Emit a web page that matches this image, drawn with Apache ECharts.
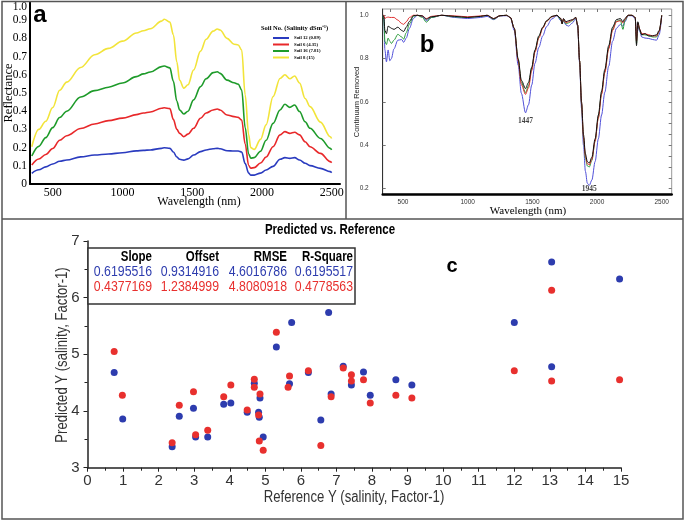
<!DOCTYPE html>
<html><head><meta charset="utf-8">
<script src="https://cdn.jsdelivr.net/npm/echarts@6/dist/echarts.min.js"></script>
<style>html,body{margin:0;padding:0;background:#fff}#c{width:685px;height:522px}</style>
</head><body><div id="c"></div>
<script>
// ---------- Panel a : reflectance spectra ----------
const wlA = [350,400,450,500,550,600,700,800,900,1000,1100,1150,1200,1280,1300,1340,1365,1390,1410,1440,1470,1510,1560,1600,1650,1680,1700,1750,1800,1830,1855,1880,1905,1920,1945,1990,2030,2080,2130,2165,2200,2235,2270,2310,2345,2420,2490,2500];
const reflSoil12 = [0.059,0.078,0.094,0.11,0.125,0.132,0.149,0.159,0.165,0.172,0.182,0.185,0.187,0.196,0.199,0.196,0.176,0.148,0.136,0.131,0.138,0.159,0.178,0.187,0.194,0.196,0.194,0.183,0.181,0.181,0.176,0.112,0.06,0.049,0.049,0.06,0.077,0.097,0.136,0.145,0.141,0.145,0.132,0.114,0.101,0.086,0.068,0.062];
const reflSoil6 = [0.104,0.137,0.162,0.195,0.24,0.265,0.305,0.33,0.348,0.362,0.381,0.39,0.396,0.416,0.419,0.414,0.355,0.30,0.278,0.26,0.274,0.306,0.361,0.39,0.407,0.412,0.407,0.379,0.37,0.366,0.352,0.22,0.102,0.087,0.09,0.115,0.148,0.205,0.27,0.288,0.278,0.284,0.27,0.232,0.205,0.168,0.123,0.117];
const reflSoil16 = [0.154,0.207,0.255,0.31,0.365,0.40,0.478,0.513,0.532,0.555,0.59,0.605,0.615,0.645,0.648,0.638,0.565,0.455,0.407,0.385,0.40,0.462,0.535,0.578,0.612,0.617,0.608,0.571,0.556,0.549,0.516,0.31,0.165,0.142,0.145,0.18,0.24,0.333,0.407,0.438,0.421,0.434,0.398,0.342,0.306,0.25,0.196,0.187];
const reflSoil8 = [0.205,0.30,0.345,0.42,0.515,0.56,0.64,0.71,0.745,0.785,0.83,0.842,0.853,0.895,0.905,0.89,0.82,0.67,0.57,0.527,0.545,0.626,0.73,0.795,0.84,0.852,0.846,0.80,0.768,0.764,0.736,0.49,0.27,0.20,0.19,0.245,0.325,0.48,0.58,0.60,0.578,0.593,0.555,0.47,0.425,0.34,0.26,0.25];
const legendNamesA = ['Soil 12 (0.89)','Soil 6 (4.35)','Soil 16 (7.81)','Soil 8 (15)'];
const xTicksA = [500,1000,1500,2000,2500];

// ---------- Panel b : continuum removed ----------
const wlB = [345,352,360,372,385,398,410,430,460,490,505,525,550,580,610,650,680,720,800,900,1000,1100,1150,1200,1250,1300,1330,1360,1390,1415,1447,1470,1495,1520,1550,1580,1610,1650,1690,1720,1730,1740,1760,1780,1810,1835,1850,1865,1880,1895,1910,1925,1940,1960,1985,2010,2035,2060,2090,2120,2150,2180,2200,2215,2240,2270,2295,2305,2315,2330,2345,2370,2400,2430,2460,2480,2500];
const crBlue = [1.0,0.99,0.84,0.785,0.84,0.79,0.80,0.845,0.885,0.888,0.875,0.895,0.94,0.985,1.0,0.995,0.975,0.99,1.0,0.99,0.985,0.99,0.995,0.98,0.997,0.998,0.99,0.93,0.77,0.64,0.55,0.587,0.678,0.778,0.852,0.905,0.948,0.983,0.998,0.975,0.965,0.975,0.955,0.95,0.965,0.985,0.95,0.78,0.57,0.40,0.28,0.225,0.215,0.24,0.325,0.43,0.54,0.645,0.765,0.88,0.94,0.958,0.95,0.97,0.998,0.998,0.985,0.90,0.95,0.925,0.90,0.895,0.893,0.888,0.885,0.91,0.995];
const crGreen = [1.0,0.98,0.88,0.865,0.895,0.88,0.87,0.885,0.912,0.9,0.89,0.92,0.96,0.995,1.0,0.99,0.968,0.99,1.0,0.993,0.99,0.995,1.0,0.982,0.998,1.0,0.99,0.94,0.795,0.69,0.643,0.675,0.755,0.835,0.9,0.942,0.973,0.993,1.0,0.98,0.96,0.98,0.96,0.965,0.975,0.99,0.955,0.79,0.59,0.435,0.34,0.305,0.30,0.33,0.42,0.53,0.64,0.74,0.85,0.935,0.972,0.978,0.935,0.975,1.0,1.0,0.99,0.87,0.965,0.93,0.91,0.91,0.905,0.9,0.9,0.925,1.0];
const crRed = [1.0,1.0,0.985,0.99,0.992,0.99,0.99,0.99,0.978,0.962,0.958,0.97,0.99,1.0,1.0,0.997,0.985,0.995,1.0,0.997,0.993,0.997,1.0,0.985,0.998,1.0,0.99,0.94,0.79,0.68,0.635,0.665,0.745,0.83,0.895,0.94,0.972,0.993,1.0,0.985,0.962,0.982,0.965,0.97,0.978,0.99,0.955,0.79,0.595,0.44,0.35,0.315,0.31,0.335,0.42,0.525,0.635,0.735,0.845,0.93,0.97,0.975,0.965,0.98,1.0,1.0,0.99,0.88,0.965,0.935,0.915,0.915,0.91,0.905,0.905,0.925,1.0];
const crBlack = [1.0,0.99,0.93,0.915,0.95,0.945,0.94,0.935,0.945,0.93,0.925,0.945,0.972,0.998,1.0,0.997,0.982,0.993,1.0,0.995,0.99,0.995,1.0,0.985,0.998,1.0,0.99,0.94,0.80,0.70,0.662,0.69,0.76,0.84,0.905,0.945,0.975,0.995,1.0,0.985,0.96,0.985,0.97,0.975,0.98,0.99,0.955,0.79,0.60,0.45,0.36,0.325,0.318,0.345,0.43,0.54,0.65,0.75,0.86,0.945,0.98,0.985,0.97,0.985,1.0,1.0,0.99,0.86,0.97,0.935,0.91,0.915,0.905,0.905,0.91,0.93,1.0];
const xTicksB = [500,1000,1500,2000,2500];
const yTicksB = [0.2,0.4,0.6,0.8,1.0];
const xMinorB = [400,500,600,700,800,900,1000,1100,1200,1300,1400,1500,1600,1700,1800,1900,2000,2100,2200,2300,2400,2500];
const yMinorB = [0.2,0.25,0.3,0.35,0.4,0.45,0.5,0.55,0.6,0.65,0.7,0.75,0.8,0.85,0.9,0.95,1.0];
const bandLabels = [[1447,'1447'],[1940,'1945']];

// ---------- Panel c : predicted vs reference ----------
const refBlue  = [0.75,0.99,2.38,2.58,2.98,3.04,3.38,3.83,4.03,4.49,4.69,4.81,4.83,4.85,4.94,5.31,5.68,5.74,6.21,6.56,6.78,6.85,7.19,7.42,7.76,7.95,8.67,9.12,12.0,13.05,13.05,14.96];
const predBlue = [4.68,3.86,3.37,3.91,4.05,3.54,3.54,4.12,4.14,3.98,4.49,3.98,3.89,4.23,3.54,5.13,4.48,5.56,4.68,3.84,5.74,4.30,4.79,4.46,4.69,4.28,4.55,4.46,5.56,6.63,4.78,6.33];
const refRed   = [0.75,0.98,2.38,2.58,2.98,3.04,3.38,3.83,4.03,4.49,4.69,4.69,4.81,4.83,4.85,4.94,5.31,5.64,5.68,6.21,6.56,6.85,7.19,7.42,7.42,7.76,7.95,8.67,9.12,12.0,13.05,13.05,14.96];
const predRed  = [5.05,4.28,3.44,4.10,4.34,3.58,3.66,4.25,4.46,4.02,4.56,4.42,3.93,3.47,4.30,3.31,5.39,4.42,4.62,4.71,3.39,4.25,4.76,4.64,4.53,4.55,4.14,4.28,4.23,4.71,6.13,4.53,4.55];
const statsHeader = ['Slope','Offset','RMSE','R-Square'];
const statsBlue = ['0.6195516','0.9314916','4.6016786','0.6195517'];
const statsRed  = ['0.4377169','1.2384999','4.8080918','0.4778563'];

// ---------- build ----------
const SERIF = '"Liberation Serif","Times New Roman",serif';
const SANS = '"Liberation Sans",Arial,sans-serif';
const NSX = 0.82; // horizontal squeeze to imitate a narrow face
const pairs = (xs, ys) => xs.map((x, i) => [x, ys[i]]);

const colA = ['#2a3bbf','#e8282a','#1e9b2a','#f2e43a'];
const seriesA = [reflSoil12, reflSoil6, reflSoil16, reflSoil8].map((d, i) => ({
  name: legendNamesA[i], type: 'line', xAxisIndex: 0, yAxisIndex: 0,
  data: pairs(wlA, d), showSymbol: false, smooth: 0.35, smoothMonotone: 'x',
  lineStyle: {color: colA[i], width: 1.6}, itemStyle: {color: colA[i]}
}));
const colB = ['#5050d8','#2c9a3c','#e03030','#111111'];
const seriesB = [crBlue, crGreen, crRed, crBlack].map((d, i) => ({
  name: 'b' + i, type: 'line', xAxisIndex: 1, yAxisIndex: 1,
  data: pairs(wlB, d), showSymbol: false, smooth: 0.3, smoothMonotone: 'x',
  lineStyle: {color: colB[i], width: 1}, itemStyle: {color: colB[i]}
}));
const seriesC = [
  {name: 'cBlue', type: 'scatter', xAxisIndex: 3, yAxisIndex: 3, data: pairs(refBlue, predBlue), symbolSize: 7, itemStyle: {color: '#2d3cae', opacity: 1}},
  {name: 'cRed', type: 'scatter', xAxisIndex: 3, yAxisIndex: 3, data: pairs(refRed, predRed), symbolSize: 7, itemStyle: {color: '#e8302e', opacity: 1}}
];

function txt(text, x, y, font, opts) {
  opts = opts || {};
  return {type: 'text', x: x, y: y, rotation: opts.rot || 0, scaleX: opts.sx || 1, z: 100,
    style: {text: text, x: 0, y: 0, font: font, fill: opts.fill || '#000',
      align: opts.align || 'center', verticalAlign: opts.va || 'middle',
      textAlign: opts.align || 'center', textVerticalAlign: opts.va || 'middle'}};
}
const G = [];
G.push({type: 'rect', z: 99, shape: {x: 2, y: 1.5, width: 681, height: 517.5}, style: {fill: 'none', stroke: '#555', lineWidth: 1.5}});
G.push({type: 'line', z: 99, shape: {x1: 346, y1: 1.5, x2: 346, y2: 219}, style: {stroke: '#555', lineWidth: 1.5}});
G.push({type: 'line', z: 99, shape: {x1: 2, y1: 219, x2: 683, y2: 219}, style: {stroke: '#555', lineWidth: 1.5}});
// panel a texts
G.push(txt('a', 40, 15, 'bold 24px ' + SANS));
G.push(txt('Reflectance', 9, 93, '12.5px ' + SERIF, {rot: Math.PI / 2}));
G.push(txt('Wavelength (nm)', 199, 202, '12px ' + SERIF));
G.push(txt('Soil No. (Salinity dSm\u207B\u00B9)', 261, 28.5, 'bold 6.5px ' + SERIF, {align: 'left'}));
// panel b texts
G.push(txt('b', 427, 45, 'bold 24px ' + SANS));
G.push(txt('Continuum Removed', 357, 102, '7.5px ' + SANS, {rot: Math.PI / 2, fill: '#222'}));
G.push(txt('Wavelength (nm)', 528, 211, '11px ' + SERIF));
// panel c texts
G.push(txt('Predicted vs. Reference', 330, 230, 'bold 14px ' + SANS, {sx: NSX}));
G.push(txt('Predicted Y (salinity, Factor-1)', 63, 355, '16px ' + SANS, {rot: Math.PI / 2, fill: '#333', sx: NSX}));
G.push(txt('Reference Y (salinity, Factor-1)', 354, 498, '16px ' + SANS, {fill: '#333', sx: NSX}));
G.push(txt('c', 452, 266, 'bold 20px ' + SANS));
G.push({type: 'rect', z: 98, shape: {x: 88, y: 248, width: 267, height: 56}, style: {fill: '#fff', stroke: '#333', lineWidth: 1.5}});
const colX = [152, 219, 287, 353];
statsHeader.forEach((t, i) => G.push(txt(t, colX[i], 257, 'bold 14px ' + SANS, {align: 'right', sx: NSX})));
statsBlue.forEach((t, i) => G.push(txt(t, colX[i], 272, '15px ' + SANS, {align: 'right', fill: '#2d3cae', sx: NSX})));
statsRed.forEach((t, i) => G.push(txt(t, colX[i], 287, '15px ' + SANS, {align: 'right', fill: '#e8302e', sx: NSX})));

const labelDist = [4.5, 0];
const chart = echarts.init(document.getElementById('c'), null, {renderer: 'canvas'});
chart.setOption({
  animation: false,
  backgroundColor: '#fff',
  grid: [
    {left: 30, top: 2, width: 310, height: 182},
    {left: 382.7, top: 9, width: 289, height: 185.3, show: true, borderColor: '#999', borderWidth: 1, backgroundColor: 'transparent'},
    {left: 87.5, top: 241, width: 533.5, height: 226.7}
  ],
  legend: {
    data: legendNamesA, orient: 'vertical', left: 273, top: 35.5, padding: 0,
    itemWidth: 16, itemHeight: 2, itemGap: 1.5, icon: 'rect',
    textStyle: {fontSize: 4.8, fontWeight: 'bold', fontFamily: SERIF, color: '#000', lineHeight: 5}
  },
  xAxis: [
    {gridIndex: 0, type: 'value', min: 337, max: 2560,
      axisLine: {lineStyle: {color: '#000', width: 2}}, axisTick: {show: false}, splitLine: {show: false},
      axisLabel: {customValues: xTicksA, formatter: v => String(v), fontFamily: SERIF, fontSize: 12, color: '#000', margin: 3}},
    {gridIndex: 1, type: 'value', min: 343, max: 2577,
      axisLine: {lineStyle: {color: '#000', width: 2.5}}, axisTick: {show: false}, splitLine: {show: false},
      axisLabel: {customValues: xTicksB, formatter: v => String(v), fontFamily: SANS, fontSize: 6.5, color: '#333', margin: 4}},
    {gridIndex: 1, type: 'value', position: 'top', min: 343, max: 2577,
      axisLine: {show: false}, splitLine: {show: false}, axisLabel: {show: false},
      axisTick: {show: true, inside: true, length: 3, customValues: xMinorB, lineStyle: {color: '#777'}}},
    {gridIndex: 2, type: 'value', min: 0, max: 15, interval: 1,
      axisLine: {lineStyle: {color: '#222', width: 1.5}}, splitLine: {show: false},
      axisTick: {show: true, length: 4, lineStyle: {color: '#222'}},
      minorTick: {show: true, splitNumber: 2, length: 3, lineStyle: {color: '#222'}}, minorSplitLine: {show: false},
      axisLabel: {fontFamily: SANS, fontSize: 15, color: '#333', margin: 6}}
  ],
  yAxis: [
    {gridIndex: 0, type: 'value', min: 0, max: 1, interval: 0.1,
      axisLine: {show: true, lineStyle: {color: '#000', width: 2}}, axisTick: {show: false}, splitLine: {show: false},
      axisLabel: {fontFamily: SERIF, fontSize: 11.5, color: '#000', margin: 3,
        formatter: v => v === 0 ? '0' : (Math.abs(v - 1) < 1e-9 ? '{t|1.0}' : v.toFixed(1)),
        rich: {t: {fontFamily: SERIF, fontSize: 11.5, color: '#000', padding: [9, 0, 0, 0]}}}},
    {gridIndex: 1, type: 'value', min: 0.174, max: 1.029,
      axisLine: {show: true, lineStyle: {color: '#333', width: 1}}, splitLine: {show: false},
      axisTick: {show: true, inside: true, length: 3, customValues: yTicksB, lineStyle: {color: '#777'}},
      axisLabel: {customValues: yTicksB, formatter: v => v.toFixed(1), fontFamily: SANS, fontSize: 6.5, color: '#333', margin: 14}},
    {gridIndex: 1, type: 'value', position: 'right', min: 0.174, max: 1.029,
      axisLine: {show: false}, splitLine: {show: false}, axisLabel: {show: false},
      axisTick: {show: true, inside: true, length: 3, customValues: yMinorB, lineStyle: {color: '#777'}}},
    {gridIndex: 2, type: 'value', min: 3, max: 7, interval: 1,
      axisLine: {show: true, lineStyle: {color: '#222', width: 1.5}}, splitLine: {show: false},
      axisTick: {show: true, length: 4, lineStyle: {color: '#222'}},
      minorTick: {show: true, splitNumber: 2, length: 3, lineStyle: {color: '#222'}}, minorSplitLine: {show: false},
      axisLabel: {fontFamily: SANS, fontSize: 15, color: '#333', margin: 8}}
  ],
  series: seriesA.concat(seriesB, seriesC, [{
    name: 'bandLabels', type: 'scatter', xAxisIndex: 1, yAxisIndex: 1, symbolSize: 0, silent: true, z: 5,
    data: bandLabels.map((b, k) => {
      const i = wlB.indexOf(b[0]);
      return {value: [b[0], crBlue[i]], label: {show: true, formatter: b[1], position: 'bottom', distance: labelDist[k],
        fontFamily: SERIF, fontWeight: 'bold', fontSize: 7.5, color: '#111'}};
    })
  }]),
  graphic: {elements: G}
});
</script></body></html>
